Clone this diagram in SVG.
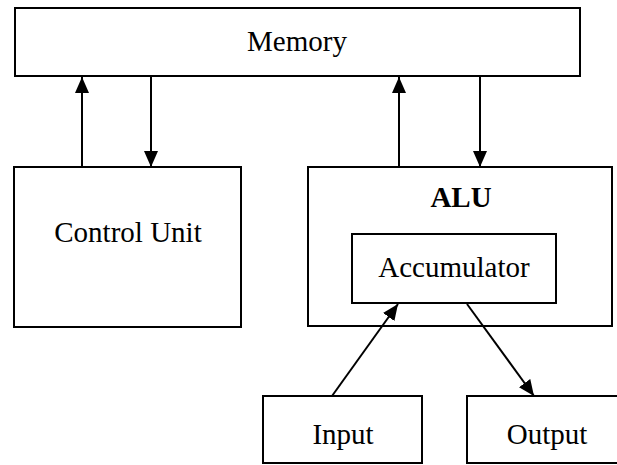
<svg xmlns="http://www.w3.org/2000/svg" width="617" height="465" viewBox="0 0 617 465">
  <style>
    .box { fill: #fff; stroke: #000; stroke-width: 2; }
    .lbl { font-family: "Liberation Serif", "Times New Roman", serif; font-size: 29px; fill: #000; text-anchor: middle; }
    .bold { font-weight: bold; }
    .wire { stroke: #000; stroke-width: 2; fill: none; marker-end: url(#head); }
  </style>
  <defs>
    <marker id="head" viewBox="0 0 16 14" refX="16" refY="7" markerWidth="16" markerHeight="14" markerUnits="userSpaceOnUse" orient="auto">
      <path d="M0,0 L16,7 L0,14 Z" fill="#000"/>
    </marker>
  </defs>
  <rect width="617" height="465" fill="#fff"/>

  <g id="memory">
    <rect class="box" x="15" y="8" width="565" height="68"/>
    <text class="lbl" x="297" y="51">Memory</text>
  </g>

  <g id="control-unit">
    <rect class="box" x="14" y="167" width="227" height="160"/>
    <text class="lbl" x="128" y="242">Control Unit</text>
  </g>

  <g id="alu">
    <rect class="box" x="308" y="167" width="304" height="159"/>
    <text class="lbl bold" x="461" y="207">ALU</text>
  </g>

  <g id="accumulator">
    <rect class="box" x="352" y="234" width="204" height="69"/>
    <text class="lbl" x="454" y="277">Accumulator</text>
  </g>

  <g id="input">
    <rect class="box" x="263" y="396" width="159" height="67"/>
    <text class="lbl" x="343" y="444">Input</text>
  </g>

  <g id="output">
    <rect class="box" x="467" y="396" width="160" height="67"/>
    <text class="lbl" x="547" y="444">Output</text>
  </g>

  <g id="connectors">
    <line class="wire" x1="82" y1="167" x2="82" y2="77"/>
    <line class="wire" x1="151" y1="77" x2="151" y2="167"/>
    <line class="wire" x1="399" y1="167" x2="399" y2="77"/>
    <line class="wire" x1="480" y1="77" x2="480" y2="167"/>
    <line class="wire" x1="332" y1="396" x2="398" y2="304"/>
    <line class="wire" x1="467" y1="304" x2="534" y2="396"/>
  </g>
</svg>
